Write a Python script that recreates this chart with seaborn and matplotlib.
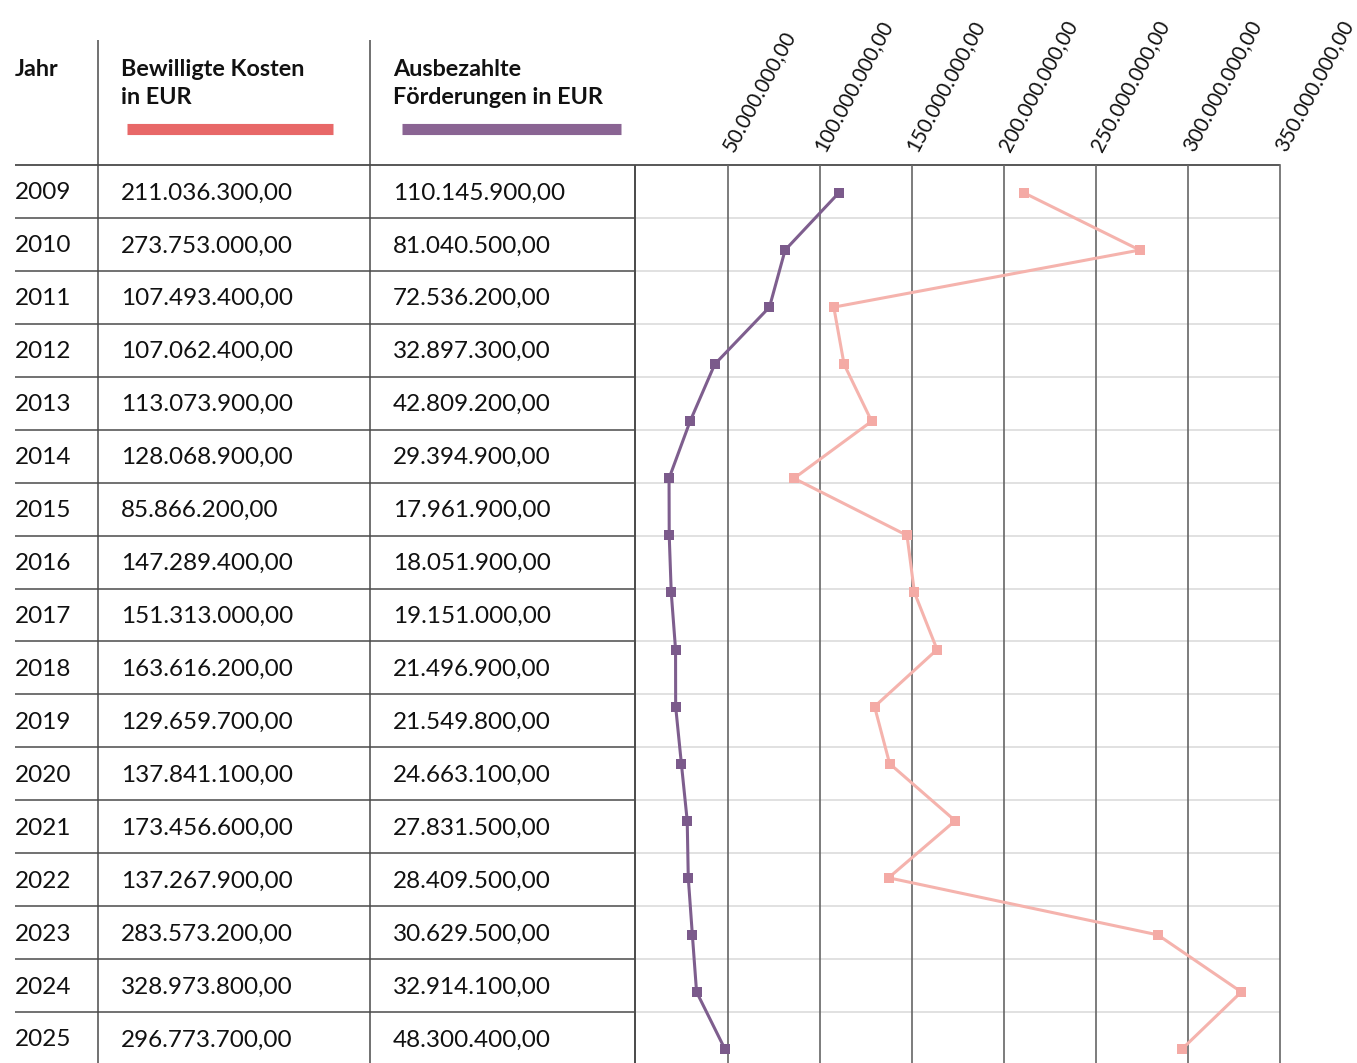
import matplotlib
matplotlib.use("Agg")
import matplotlib.pyplot as plt
import seaborn as sns
import pandas as pd
import numpy as np

sns.set_theme(style="white")
plt.rcParams['font.family'] = ['Lato', 'DejaVu Sans']

# ---- table data ----
years = [2009, 2010, 2011, 2012, 2013, 2014, 2015, 2016, 2017, 2018, 2019, 2020, 2021, 2022, 2023, 2024, 2025]
bewilligt = ["211.036.300,00", "273.753.000,00", "107.493.400,00", "107.062.400,00", "113.073.900,00",
             "128.068.900,00", "85.866.200,00", "147.289.400,00", "151.313.000,00", "163.616.200,00",
             "129.659.700,00", "137.841.100,00", "173.456.600,00", "137.267.900,00", "283.573.200,00",
             "328.973.800,00", "296.773.700,00"]
ausbezahlt = ["110.145.900,00", "81.040.500,00", "72.536.200,00", "32.897.300,00", "42.809.200,00",
              "29.394.900,00", "17.961.900,00", "18.051.900,00", "19.151.000,00", "21.496.900,00",
              "21.549.800,00", "24.663.100,00", "27.831.500,00", "28.409.500,00", "30.629.500,00",
              "32.914.100,00", "48.300.400,00"]

# ---- chart data (the reference chart shows 16 points; 2012 is not plotted) ----
chart_years = [2009, 2010, 2011, 2013, 2014, 2015, 2016, 2017, 2018, 2019, 2020, 2021, 2022, 2023, 2024, 2025]
chart_bewilligt = [211036300, 273753000, 107493400, 113073900, 128068900, 85866200, 147289400, 151313000,
                   163616200, 129659700, 137841100, 173456600, 137267900, 283573200, 328973800, 296773700]
chart_ausbezahlt = [110145900, 81040500, 72536200, 42809200, 29394900, 17961900, 18051900, 19151000,
                    21496900, 21549800, 24663100, 27831500, 28409500, 30629500, 32914100, 48300400]
tick_values = [50e6, 100e6, 150e6, 200e6, 250e6, 300e6, 350e6]
tick_labels = ["50.000.000,00", "100.000.000,00", "150.000.000,00", "200.000.000,00",
               "250.000.000,00", "300.000.000,00", "350.000.000,00"]

W, H = 1357, 1063
fig = plt.figure(figsize=(W / 100, H / 100), dpi=100)
fig.patch.set_facecolor("white")

# background axes in pixel coordinates
bg = fig.add_axes([0, 0, 1, 1])
bg.set_xlim(0, W)
bg.set_ylim(H, 0)
bg.axis("off")

dark = "#4a4a4a"
light = "#d9d9d9"
txt = "#111111"
red = "#e86868"
purple = "#8a6493"
pink_line = "#f5b3ad"
purple_line = "#7e5e8e"

top = 165
rh = (1012 - 165) / 16.0

# table lines
bg.plot([15, 1280], [top, top], color=dark, lw=1.3, solid_capstyle="butt")
for k in range(1, 17):
    y = top + rh * k
    bg.plot([15, 635], [y, y], color=dark, lw=1.1, solid_capstyle="butt")
    bg.plot([636, 1280], [y, y], color=light, lw=1.1, solid_capstyle="butt")
for x in [98, 370]:
    bg.plot([x, x], [40, H], color=dark, lw=1.1, solid_capstyle="butt")
bg.plot([635, 635], [top, H], color=dark, lw=1.4, solid_capstyle="butt")

# header
hfs = 16.8
bg.text(15, 69, "Jahr", fontsize=hfs, fontweight="bold", color=txt, va="center", ha="left")
bg.text(121, 69, "Bewilligte Kosten", fontsize=hfs, fontweight="bold", color=txt, va="center", ha="left")
bg.text(121, 98, "in EUR", fontsize=hfs, fontweight="bold", color=txt, va="center", ha="left")
bg.text(393, 69, "Ausbezahlte", fontsize=hfs, fontweight="bold", color=txt, va="center", ha="left")
bg.text(393, 98, "Förderungen in EUR", fontsize=hfs, fontweight="bold", color=txt, va="center", ha="left")
bg.plot([127, 333], [129, 129], color=red, lw=8, solid_capstyle="butt")
bg.plot([402, 621], [129, 129], color=purple, lw=8, solid_capstyle="butt")

# rows
fs = 17.5
for k, (yr, b, a) in enumerate(zip(years, bewilligt, ausbezahlt)):
    yc = top + rh * (k + 0.5) + 1.5
    bg.text(15, yc, str(yr), fontsize=fs, color=txt, va="center", ha="left")
    bg.text(121, yc, b, fontsize=fs, color=txt, va="center", ha="left")
    bg.text(393, yc, a, fontsize=fs, color=txt, va="center", ha="left")

# chart axes
x0, x1 = 636, 1280
ax = fig.add_axes([x0 / W, 0, (x1 - x0) / W, (H - top) / H])
ax.patch.set_alpha(0)
step = (1049 - 193) / 15.0
ax.set_ylim((H - 193) / step, (top - 193) / step)
ax.set_xlim(0, 350e6)

df = pd.DataFrame({
    "pos": np.arange(len(chart_years)),
    "bewilligt": chart_bewilligt,
    "ausbezahlt": chart_ausbezahlt,
})
sns.lineplot(data=df, x="bewilligt", y="pos", orient="y", ax=ax, color=pink_line, lw=2.2,
             marker="s", markersize=6.5, markeredgewidth=0, markerfacecolor="#f4aaa5", clip_on=False)
sns.lineplot(data=df, x="ausbezahlt", y="pos", orient="y", ax=ax, color=purple_line, lw=2.2,
             marker="s", markersize=6.5, markeredgewidth=0, markerfacecolor="#7b5a8b", clip_on=False)

ax.set_xticks(tick_values)
ax.set_xticklabels(tick_labels)
ax.xaxis.tick_top()
ax.tick_params(axis="x", length=0, pad=11, labelsize=14.8, labelcolor=txt)
for lab in ax.get_xticklabels():
    lab.set_rotation(62)
    lab.set_rotation_mode("anchor")
    lab.set_ha("left")
    lab.set_va("center")
ax.set_yticks([])
ax.set_xlabel("")
ax.set_ylabel("")
for t in tick_values[:-1]:
    ax.axvline(t, color="#666666", lw=1.2, zorder=0)
for s in ["left", "bottom"]:
    ax.spines[s].set_visible(False)
ax.spines["top"].set_visible(False)
ax.spines["right"].set_color("#666666")
ax.spines["right"].set_linewidth(1.2)

fig.savefig("out.png", dpi=100, facecolor="white")
